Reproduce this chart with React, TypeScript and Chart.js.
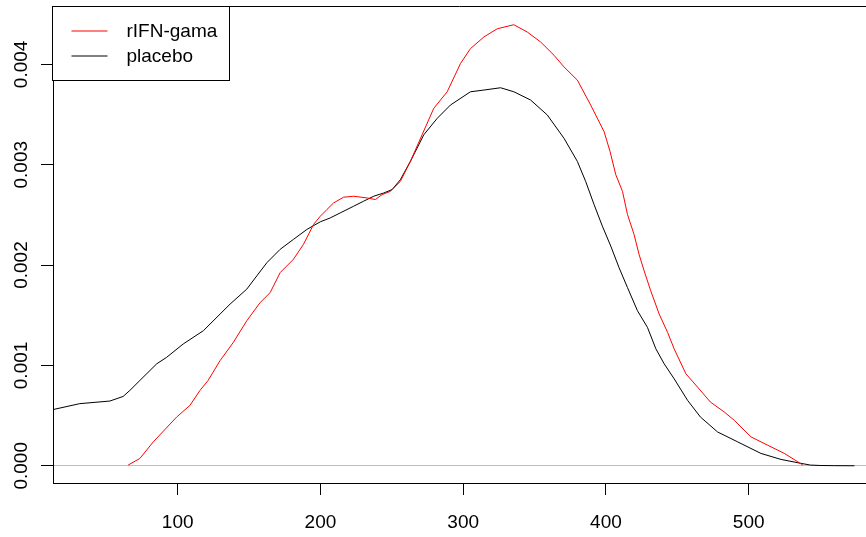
import React, { useEffect, useRef } from "react";
import { Chart, registerables } from "chart.js";

Chart.register(...registerables);

const seriesNames = ["rIFN-gama", "placebo"];
const seriesColors = ["#FF0000", "#000000"];

const ifnX = [65.3, 73.5, 82.9, 99.3, 108.6, 115.6, 121.3, 129.7, 139.0, 148.4, 157.8, 164.8, 171.8, 181.1, 188.1, 195.2, 199.9, 204.6, 209.2, 216.2, 223.2, 232.6, 238.5, 243.2, 249.0, 256.0, 263.0, 271.2, 279.4, 288.8, 298.1, 305.1, 314.5, 323.9, 335.5, 344.9, 354.3, 363.6, 370.6, 380.0, 389.3, 398.7, 402.9, 406.9, 411.6, 415.1, 419.7, 423.2, 426.8, 431.4, 437.3, 443.2, 447.8, 456.0, 464.2, 473.2, 482.9, 489.9, 501.6, 513.3, 525.0, 534.4, 537.9];
const ifnY = [0.000007, 0.000073, 0.000238, 0.000486, 0.000602, 0.000751, 0.00085, 0.001048, 0.00123, 0.001445, 0.001627, 0.001726, 0.001925, 0.002058, 0.002206, 0.002405, 0.002487, 0.002554, 0.002619, 0.002676, 0.002686, 0.002669, 0.002653, 0.002702, 0.002735, 0.002834, 0.003033, 0.003298, 0.003562, 0.003727, 0.004008, 0.004157, 0.004273, 0.004355, 0.004395, 0.004322, 0.004223, 0.004091, 0.003975, 0.003843, 0.003595, 0.00333, 0.003132, 0.002901, 0.002735, 0.002504, 0.002306, 0.002107, 0.001941, 0.001743, 0.001512, 0.001329, 0.001165, 0.000917, 0.000784, 0.000635, 0.000536, 0.000453, 0.000288, 0.000205, 0.000123, 0.00004, 0.000007];

const placeboX = [12.7, 31.4, 52.5, 61.8, 66.5, 73.5, 85.3, 92.3, 103.9, 118.0, 129.7, 136.7, 148.4, 155.4, 162.5, 171.8, 181.1, 190.5, 199.9, 206.9, 213.9, 223.2, 230.2, 237.3, 244.3, 250.2, 256.0, 263.0, 272.4, 281.8, 291.1, 305.1, 314.5, 326.2, 335.5, 347.2, 358.9, 370.6, 380.0, 385.8, 391.7, 397.5, 403.4, 409.2, 415.1, 422.1, 429.1, 435.0, 440.8, 447.8, 457.2, 466.2, 478.2, 492.3, 508.6, 522.7, 536.7, 543.2, 550.0, 560.0, 574.1];
const placeboY = [0.00056, 0.000619, 0.000645, 0.000691, 0.000751, 0.00085, 0.001016, 0.001081, 0.001214, 0.001346, 0.001512, 0.001611, 0.00176, 0.001892, 0.002024, 0.002157, 0.002256, 0.002355, 0.002431, 0.00247, 0.00252, 0.002586, 0.002636, 0.002686, 0.002718, 0.002752, 0.002851, 0.003033, 0.003298, 0.003462, 0.003595, 0.003727, 0.003744, 0.003767, 0.003727, 0.003645, 0.003496, 0.003264, 0.003033, 0.002834, 0.002603, 0.002388, 0.002189, 0.001974, 0.001776, 0.001545, 0.001379, 0.001165, 0.001016, 0.000867, 0.000652, 0.000486, 0.000337, 0.000238, 0.000123, 0.000063, 0.000024, 0.000007, 0.000003, 0.000001, 0.0];

const xTicks = [100, 200, 300, 400, 500];
const yTicks = [0, 0.001, 0.002, 0.003, 0.004];
const yTickLabels = ["0.000", "0.001", "0.002", "0.003", "0.004"];

const X_MIN = 12.65;
const X_MAX = 582.2;
const Y_MIN = -0.0001717;
const Y_MAX = 0.0045727;

const FONT = '"Liberation Sans", Arial, sans-serif';

const framePlugin = {
  id: "framePlugin",
  afterDatasetsDraw(chart: any) {
    const { ctx, chartArea } = chart;
    ctx.save();
    ctx.strokeStyle = "#000";
    ctx.lineWidth = 1;
    ctx.beginPath();
    ctx.moveTo(chartArea.left, Math.round(chartArea.top) - 0.5);
    ctx.lineTo(chartArea.right, Math.round(chartArea.top) - 0.5);
    ctx.stroke();

    const bx = Math.round(chartArea.left) - 0.5;
    const by = Math.round(chartArea.top) - 0.5;
    const bw = 177;
    const bh = 74;
    ctx.fillStyle = "#fff";
    ctx.fillRect(bx, by, bw, bh);
    ctx.strokeStyle = "#000";
    ctx.strokeRect(bx, by, bw, bh);
    ctx.font = "19px " + FONT;
    ctx.textBaseline = "middle";
    ctx.textAlign = "left";
    seriesNames.forEach((name, i) => {
      const ly = by + 24.5 + i * 25;
      ctx.strokeStyle = seriesColors[i];
      ctx.beginPath();
      ctx.moveTo(bx + 19, ly);
      ctx.lineTo(bx + 55, ly);
      ctx.stroke();
      ctx.fillStyle = "#000";
      ctx.fillText(name, bx + 74, ly + 1);
    });
    ctx.restore();
  },
};

export default function App() {
  const ref = useRef<HTMLCanvasElement | null>(null);
  useEffect(() => {
    if (!ref.current) return;
    const chart = new Chart(ref.current, {
      type: "line",
      data: {
        datasets: [
          {
            label: seriesNames[0],
            data: ifnX.map((x, i) => ({ x, y: ifnY[i] })),
            borderColor: seriesColors[0],
            borderWidth: 1,
            pointRadius: 0,
            tension: 0,
            fill: false,
          },
          {
            label: seriesNames[1],
            data: placeboX.map((x, i) => ({ x, y: placeboY[i] })),
            borderColor: seriesColors[1],
            borderWidth: 1,
            pointRadius: 0,
            tension: 0,
            fill: false,
          },
        ],
      },
      options: {
        animation: false,
        responsive: false,
        devicePixelRatio: 1,
        layout: { padding: { left: 0, top: 5, right: 0, bottom: 0 } },
        plugins: { legend: { display: false }, tooltip: { enabled: false } },
        scales: {
          x: {
            type: "linear",
            position: "bottom",
            min: X_MIN,
            max: X_MAX,
            afterBuildTicks: (scale: any) => {
              scale.ticks = xTicks.map((v) => ({ value: v }));
            },
            afterFit: (scale: any) => {
              scale.height = 54;
            },
            ticks: {
              autoSkip: false,
              maxRotation: 0,
              minRotation: 0,
              padding: 16,
              color: "#000",
              font: { family: FONT, size: 19 },
              callback: (v: any) => String(v),
            },
            grid: {
              display: true,
              drawOnChartArea: false,
              drawTicks: true,
              tickLength: 12,
              tickColor: "#000",
              color: "#000",
            },
            border: { display: true, color: "#000", width: 1 },
          },
          y: {
            type: "linear",
            position: "left",
            min: Y_MIN,
            max: Y_MAX,
            afterBuildTicks: (scale: any) => {
              scale.ticks = yTicks.map((v) => ({ value: v }));
            },
            afterFit: (scale: any) => {
              scale.width = 53;
            },
            ticks: {
              autoSkip: false,
              minRotation: 90,
              maxRotation: 90,
              crossAlign: "center",
              padding: -4.5,
              color: "#000",
              font: { family: FONT, size: 19 },
              callback: (v: any) => {
                const idx = yTicks.indexOf(v);
                return idx >= 0 ? yTickLabels[idx] : "";
              },
            },
            grid: {
              display: true,
              drawOnChartArea: true,
              drawTicks: true,
              tickLength: 12,
              tickColor: "#000",
              color: (c: any) => (c.tick && c.tick.value === 0 ? "#BEBEBE" : "rgba(0,0,0,0)"),
            },
            border: { display: true, color: "#000", width: 1 },
          },
        },
      },
      plugins: [framePlugin],
    });
    return () => chart.destroy();
  }, []);
  return (
    <div style={{ position: "absolute", left: 0, top: 0, width: 866, height: 537, background: "#fff" }}>
      <canvas ref={ref} width={866} height={537} style={{ display: "block" }} />
    </div>
  );
}
